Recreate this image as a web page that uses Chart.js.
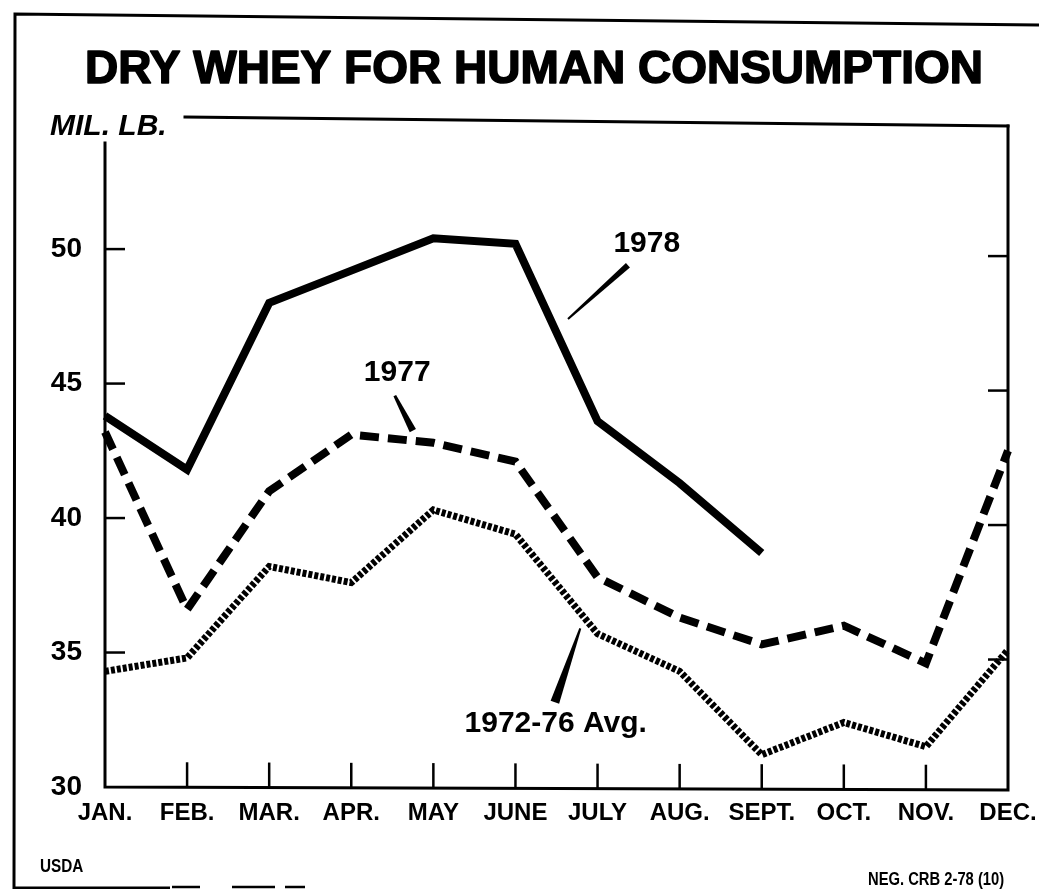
<!DOCTYPE html>
<html>
<head>
<meta charset="utf-8">
<script src="https://cdn.jsdelivr.net/npm/chart.js@4.4.1/dist/chart.umd.min.js"></script>
<style>
  html, body { margin: 0; padding: 0; background: #ffffff; }
  #wrap { width: 1039px; height: 889px; }
</style>
</head>
<body>
<div id="wrap"><canvas id="c" width="1039" height="889"></canvas></div>
<script>
// ---- data ----
const months = ["JAN.", "FEB.", "MAR.", "APR.", "MAY", "JUNE", "JULY", "AUG.", "SEPT.", "OCT.", "NOV.", "DEC."];
const yTicks = [30, 35, 40, 45, 50];
const y1978 = [43.8, 41.8, 48.0, 49.2, 50.4, 50.2, 43.6, 41.3, 38.7, null, null, null];
const y1977 = [43.2, 36.6, 41.0, 43.1, 42.8, 42.1, 37.8, 36.3, 35.3, 36.0, 34.6, 42.5];
const yAvg  = [34.3, 34.8, 38.2, 37.6, 40.3, 39.4, 35.7, 34.3, 31.2, 32.4, 31.5, 35.1];
const titleText = "DRY WHEY FOR HUMAN CONSUMPTION";
const unitText = "MIL. LB.";
const seriesNames = ["1978", "1977", "1972-76 Avg."];
const footLeft = "USDA";
const footRight = "NEG. CRB 2-78 (10)";

const FONT = "'Liberation Sans', Arial, Helvetica, sans-serif";

// annotation anchors in data space
const notes = [
  { text: seriesNames[0], size: 30, lx: 6.6,  lv: 50.2,  fx: 6.37, fv: 49.4,  tx: 5.64, tv: 47.4,  w0: 6, w1: 2 },
  { text: seriesNames[1], size: 30, lx: 3.56, lv: 45.4,  fx: 3.53, fv: 44.55, tx: 3.75, tv: 43.25, w0: 3, w1: 7 },
  { text: seriesNames[2], size: 30, lx: 5.49, lv: 32.35, fx: 5.79, fv: 35.9,  tx: 5.48, tv: 33.15, w0: 2, w1: 9 }
];

const decor = {
  id: 'decor',
  beforeDatasetsDraw(chart) {
    const ctx = chart.ctx;
    const a = chart.chartArea;
    const xs = chart.scales.x, ys = chart.scales.y;
    ctx.save();
    ctx.strokeStyle = '#000';
    ctx.lineCap = 'square';
    // plot box
    ctx.lineWidth = 3;
    ctx.beginPath();
    ctx.moveTo(a.left, a.top + 23);
    ctx.lineTo(a.left, a.bottom);
    ctx.lineTo(a.right, a.bottom + 3);
    ctx.lineTo(a.right, a.top + 6);
    ctx.stroke();
    ctx.beginPath();
    ctx.moveTo(a.left + 80, a.top - 3);
    ctx.lineTo(a.right, a.top + 6);
    ctx.stroke();
    // y ticks, both sides
    ctx.lineWidth = 2.5;
    ctx.lineCap = 'butt';
    yTicks.forEach(v => {
      const py = ys.getPixelForValue(v);
      if (v !== ys.min) {
        ctx.beginPath(); ctx.moveTo(a.left, py); ctx.lineTo(a.left + 20, py); ctx.stroke();
        ctx.beginPath(); ctx.moveTo(a.right - 20, py + 7); ctx.lineTo(a.right, py + 7); ctx.stroke();
      }
    });
    // x ticks
    months.forEach((m, i) => {
      if (i === 0 || i === months.length - 1) return;
      const px = xs.getPixelForValue(i);
      const off = 3 * i / (months.length - 1);
      ctx.beginPath(); ctx.moveTo(px, a.bottom + off); ctx.lineTo(px, a.bottom + off - 25); ctx.stroke();
    });
    // outer frame
    ctx.lineWidth = 3;
    ctx.beginPath();
    ctx.moveTo(1039, 25); ctx.lineTo(15, 14); ctx.lineTo(14, 888); ctx.lineTo(170, 888);
    ctx.stroke();
    ctx.lineWidth = 2.5;
    [[172, 200], [232, 275], [285, 305]].forEach(s => {
      ctx.beginPath(); ctx.moveTo(s[0], 887); ctx.lineTo(s[1], 887); ctx.stroke();
    });
    ctx.restore();
  },
  afterDraw(chart) {
    const ctx = chart.ctx;
    const xs = chart.scales.x, ys = chart.scales.y;
    ctx.save();
    ctx.fillStyle = '#000';
    ctx.strokeStyle = '#000';
    // title (heavy)
    ctx.font = `bold 46px ${FONT}`;
    ctx.textAlign = 'center';
    ctx.textBaseline = 'alphabetic';
    ctx.lineWidth = 1.6;
    ctx.lineJoin = 'round';
    ctx.fillText(titleText, 534, 83);
    ctx.strokeText(titleText, 534, 83);
    // unit label
    ctx.font = `italic bold 30px ${FONT}`;
    ctx.textAlign = 'left';
    ctx.fillText(unitText, 50, 135);
    // annotations
    notes.forEach(n => {
      ctx.font = `bold ${n.size}px ${FONT}`;
      ctx.textAlign = 'center';
      ctx.textBaseline = 'middle';
      ctx.fillText(n.text, xs.getPixelForValue(n.lx), ys.getPixelForValue(n.lv));
      const x0 = xs.getPixelForValue(n.fx), y0 = ys.getPixelForValue(n.fv);
      const x1 = xs.getPixelForValue(n.tx), y1 = ys.getPixelForValue(n.tv);
      const dx = x1 - x0, dy = y1 - y0, L = Math.hypot(dx, dy);
      const nx = -dy / L, ny = dx / L;
      ctx.beginPath();
      ctx.moveTo(x0 + nx * n.w0 / 2, y0 + ny * n.w0 / 2);
      ctx.lineTo(x1 + nx * n.w1 / 2, y1 + ny * n.w1 / 2);
      ctx.lineTo(x1 - nx * n.w1 / 2, y1 - ny * n.w1 / 2);
      ctx.lineTo(x0 - nx * n.w0 / 2, y0 - ny * n.w0 / 2);
      ctx.closePath();
      ctx.fill();
    });
    // footer
    ctx.textAlign = 'left';
    ctx.textBaseline = 'alphabetic';
    ctx.font = `bold 18px ${FONT}`;
    ctx.save(); ctx.translate(40, 872); ctx.scale(0.85, 1); ctx.fillText(footLeft, 0, 0); ctx.restore();
    ctx.save(); ctx.translate(868, 885); ctx.scale(0.82, 1); ctx.fillText(footRight, 0, 0); ctx.restore();
    ctx.restore();
  }
};

new Chart(document.getElementById('c'), {
  type: 'line',
  data: {
    labels: months,
    datasets: [
      { label: seriesNames[0], data: y1978, borderColor: '#000', borderWidth: 8, pointRadius: 0, tension: 0,
        borderJoinStyle: 'miter', borderCapStyle: 'butt', spanGaps: false },
      { label: seriesNames[1], data: y1977, borderColor: '#000', borderWidth: 8, pointRadius: 0, tension: 0,
        borderDash: [19, 9], borderJoinStyle: 'miter', borderCapStyle: 'butt' },
      { label: seriesNames[2], data: yAvg, borderColor: '#000', borderWidth: 7, pointRadius: 0, tension: 0,
        borderDash: [4, 2], borderJoinStyle: 'miter', borderCapStyle: 'butt' }
    ]
  },
  options: {
    responsive: false,
    animation: false,
    devicePixelRatio: 1,
    layout: { padding: { top: 120, left: 0, right: 31, bottom: 0 } },
    plugins: { legend: { display: false }, title: { display: false }, tooltip: { enabled: false } },
    scales: {
      x: {
        type: 'category',
        offset: false,
        grid: { display: false, drawTicks: false },
        border: { display: false },
        ticks: { color: '#000', font: { family: FONT, size: 24, weight: 'bold' }, padding: 12, maxRotation: 0, autoSkip: false },
        afterFit: s => { s.height = 102; s.paddingLeft = 0; s.paddingRight = 0; }
      },
      y: {
        min: 30, max: 54.8,
        grid: { display: false, drawTicks: false },
        border: { display: false },
        afterBuildTicks: s => { s.ticks = yTicks.map(v => ({ value: v })); },
        ticks: { color: '#000', font: { family: FONT, size: 28, weight: 'bold' }, padding: 23 },
        afterFit: s => { s.width = 105; s.paddingTop = 0; s.paddingBottom = 0; }
      }
    }
  },
  plugins: [decor]
});
</script>
</body>
</html>
